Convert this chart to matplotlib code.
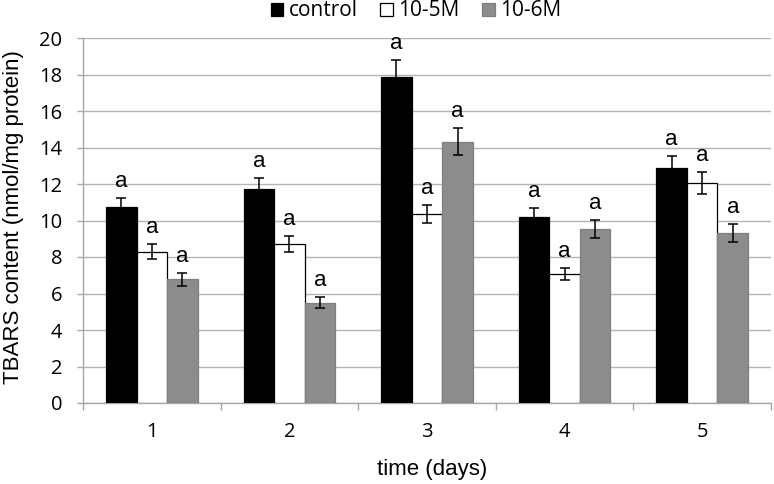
import matplotlib
matplotlib.use("Agg")
import matplotlib.pyplot as plt
import numpy as np
from matplotlib.patches import Patch

days = ["1", "2", "3", "4", "5"]
series_names = ["control", "10-5M", "10-6M"]
control = [10.72, 11.74, 17.88, 10.17, 12.89]
control_err = [0.53, 0.60, 0.90, 0.53, 0.65]
m5 = [8.29, 8.69, 10.36, 7.07, 12.05]
m5_err = [0.42, 0.44, 0.50, 0.31, 0.59]
m6 = [6.78, 5.50, 14.32, 9.52, 9.32]
m6_err = [0.35, 0.30, 0.75, 0.50, 0.50]
letters = ["a"] * 5

fig = plt.figure(figsize=(7.74, 4.84), dpi=100)
ax = fig.add_axes([83/774, 81/484, (771-83)/774, (403-38)/484])

axis_gray = "#a6a6a6"
x = np.arange(len(days))
bw = 1/4.5
fills = ["#000000", "#ffffff", "#8c8c8c"]
edges = ["#000000", "#000000", "#7f7f7f"]
vals = [control, m5, m6]
errs = [control_err, m5_err, m6_err]
for i in range(3):
    pos = x + (i - 1) * bw
    ax.bar(pos, vals[i], width=bw, color=fills[i], edgecolor=edges[i], linewidth=0.9, zorder=3)
    ax.errorbar(pos, vals[i], yerr=errs[i], fmt="none", ecolor="#000000", elinewidth=1.1,
                capsize=3.5, capthick=1.1, zorder=4)
    for p, v, e, l in zip(pos, vals[i], errs[i], letters):
        ax.text(p, v + e + 0.6, l, ha="center", va="baseline", fontsize=16,
                family="Liberation Sans", color="#000000", zorder=5)

ax.set_xlim(-0.5, len(days) - 0.5)
ax.set_ylim(0, 20)
ax.set_yticks(np.arange(0, 21, 2))
ax.yaxis.grid(True, color="#b3b3b3", linewidth=1.0, zorder=0)
ax.set_axisbelow(True)
for s in ["top", "right"]:
    ax.spines[s].set_visible(False)
for s in ["left", "bottom"]:
    ax.spines[s].set_color(axis_gray)
    ax.spines[s].set_linewidth(1.0)

ax.set_xticks(x)
ax.set_xticklabels(days)
ax.set_xticks(np.arange(-0.5, len(days)), minor=True)
ax.tick_params(axis="x", which="major", length=0, pad=14, labelsize=14.5)
ax.tick_params(axis="x", which="minor", length=5, color=axis_gray, width=1.0)
ax.tick_params(axis="y", length=4.3, color=axis_gray, width=1.0, labelsize=14.5, pad=10.5)
for lab in ax.get_xticklabels() + ax.get_yticklabels():
    lab.set_family("Open Sans")

fig.text(14/774, 1 - 217/484, "TBARS content (nmol/mg protein)", rotation=90, ha="center",
         va="center", fontsize=16, family="Liberation Sans")
fig.text(432/774, 1 - 470/484, "time (days)", ha="center", va="center", fontsize=16,
         family="Liberation Sans")

handles = [Patch(facecolor=fills[i], edgecolor=edges[i], linewidth=0.9) for i in range(3)]
fig.legend(handles, series_names, loc="center", bbox_to_anchor=(416/774, 1 - 11/484), ncol=3,
           frameon=False, prop={"family": "Open Sans", "size": 15}, handlelength=0.6,
           handleheight=0.6, handletextpad=0.25, columnspacing=1.1, borderpad=0)

fig.savefig("out.png", dpi=100)
